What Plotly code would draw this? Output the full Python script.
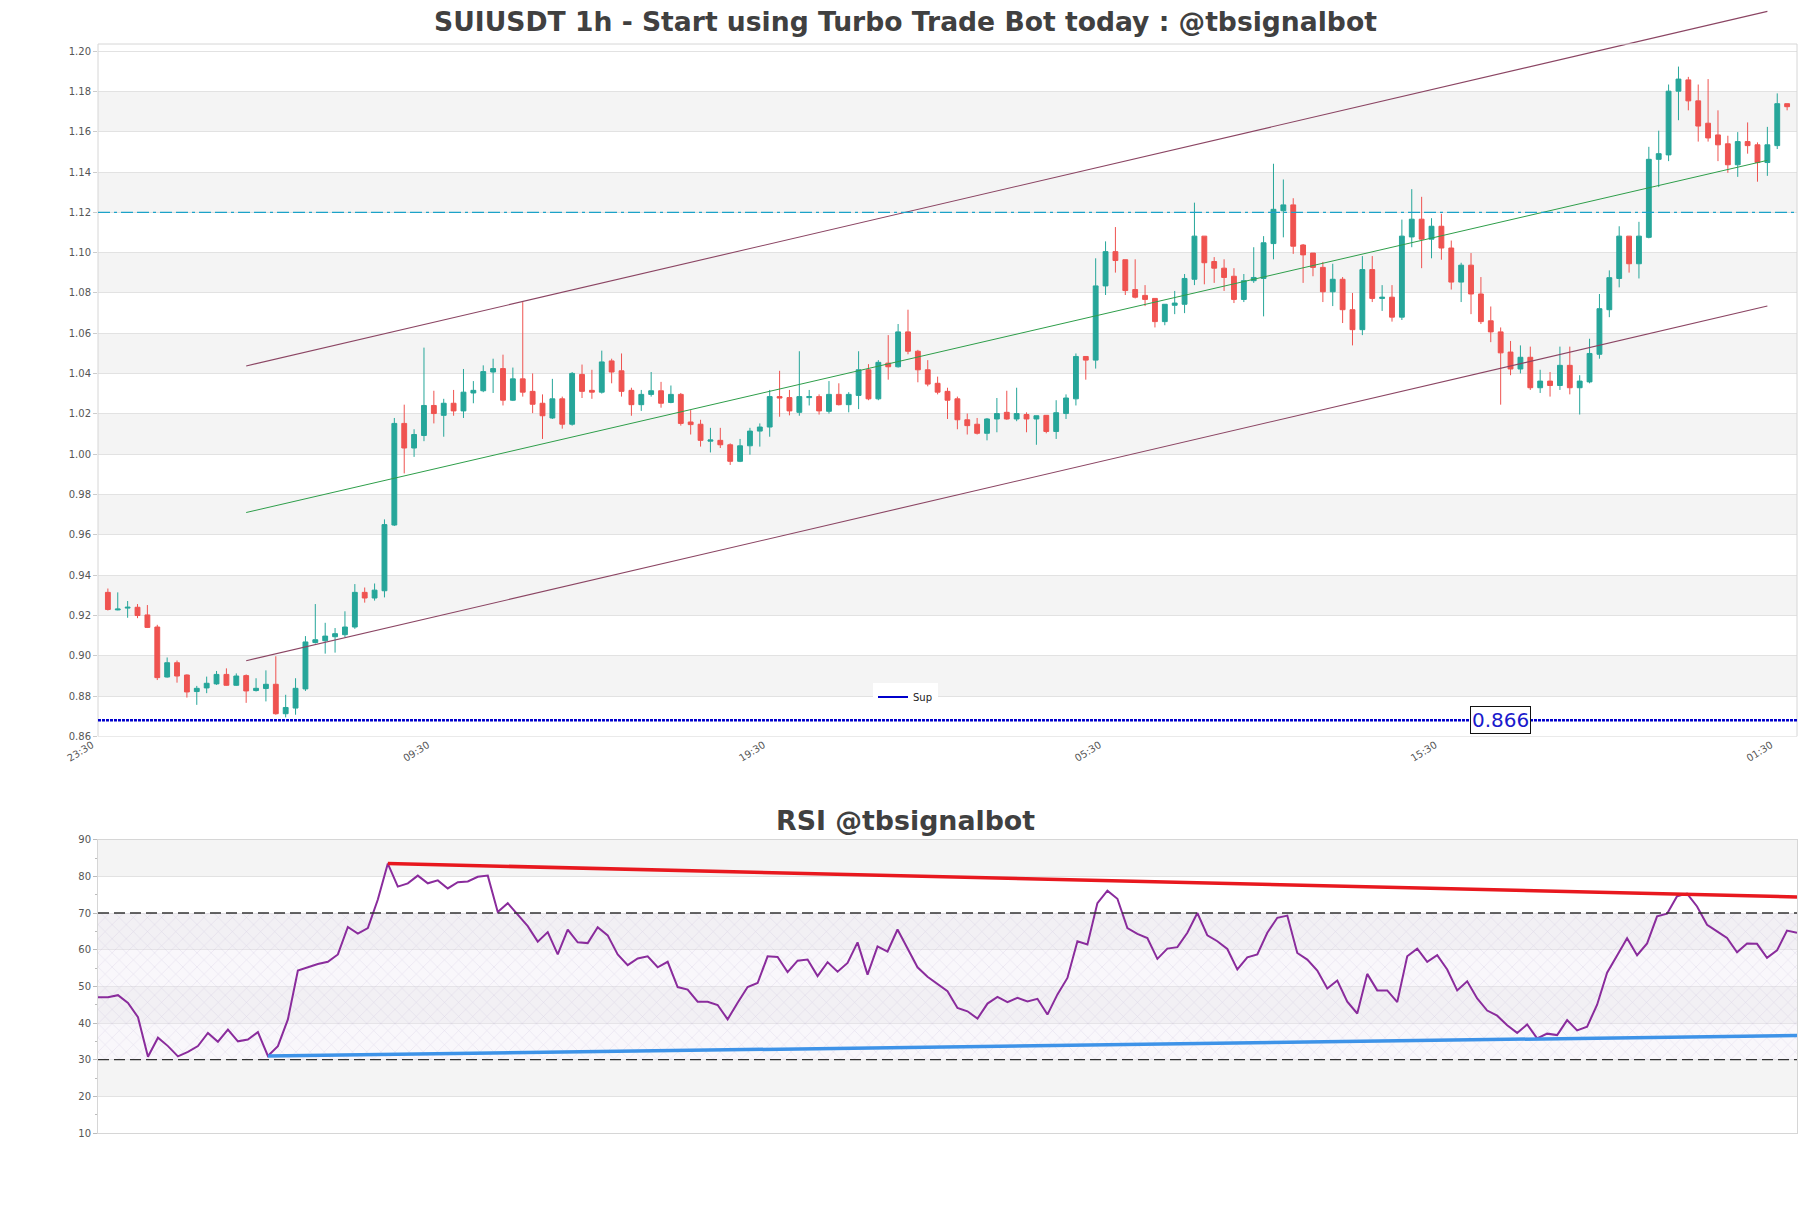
import plotly.graph_objects as go

# ---------------- data ----------------
title_text = "SUIUSDT 1h - Start using Turbo Trade Bot today : @tbsignalbot"
rsi_title = "RSI @tbsignalbot"
tick_idx = [0, 34, 68, 102, 136, 170]
tick_labels = ["23:30", "09:30", "19:30", "05:30", "15:30", "01:30"]

opens = [0.9315, 0.9228, 0.9237, 0.9241, 0.9203, 0.9143, 0.8895, 0.8966, 0.8905, 0.8823,
         0.8841, 0.8861, 0.8908, 0.8854, 0.8902, 0.8828, 0.8838, 0.8859, 0.8713, 0.8741,
         0.8836, 0.9066, 0.9075, 0.9095, 0.9105, 0.9143, 0.9315, 0.9287, 0.9323, 0.9649,
         1.0153, 1.0031, 1.0093, 1.0242, 1.0193, 1.0253, 1.0215, 1.0304, 1.0315, 1.0408,
         1.0425, 1.0268, 1.0374, 1.0312, 1.0253, 1.0180, 1.0275, 1.0149, 1.0396, 1.0317,
         1.0308, 1.0463, 1.0414, 1.0317, 1.0246, 1.0297, 1.0315, 1.0257, 1.0297, 1.0160,
         1.0149, 1.0065, 1.0069, 1.0047, 0.9965, 1.0042, 1.0115, 1.0135, 1.0286, 1.0281,
         1.0208, 1.0281, 1.0286, 1.0213, 1.0297, 1.0246, 1.0292, 1.0419, 1.0275, 1.0452,
         1.0434, 1.0607, 1.0511, 1.0419, 1.0352, 1.0312, 1.0275, 1.0171, 1.0149, 1.0104,
         1.0175, 1.0208, 1.0175, 1.0197, 1.0175, 1.0193, 1.0113, 1.0202, 1.0275, 1.0485,
         1.0467, 1.0835, 1.1005, 1.0965, 1.0817, 1.0788, 1.0773, 1.0658, 1.0739, 1.0744,
         1.0868, 1.1082, 1.0956, 1.0923, 1.0883, 1.0768, 1.0861, 1.0872, 1.1045, 1.1208,
         1.1237, 1.1038, 1.0998, 1.0927, 1.0806, 1.0868, 1.0717, 1.0618, 1.0916, 1.0773,
         1.0779, 1.0680, 1.1078, 1.1166, 1.1067, 1.1131, 1.1023, 1.0854, 1.0938, 1.0795,
         1.0662, 1.0607, 1.0507, 1.0423, 1.0481, 1.0330, 1.0363, 1.0341, 1.0441, 1.0330,
         1.0359, 1.0496, 1.0717, 1.0872, 1.1082, 1.0945, 1.1076, 1.1463, 1.1485, 1.1801,
         1.1857, 1.1753, 1.1642, 1.1584, 1.1540, 1.1436, 1.1551, 1.1535, 1.1447, 1.1531,
         1.1739]
highs = [0.9334, 0.9315, 0.9272, 0.9257, 0.9252, 0.9154, 0.8992, 0.8977, 0.8908, 0.8851,
         0.8897, 0.8925, 0.8938, 0.8913, 0.8908, 0.8889, 0.8928, 0.8998, 0.8807, 0.8889,
         0.9098, 0.9257, 0.9164, 0.9138, 0.9221, 0.9356, 0.9339, 0.9359, 0.9677, 1.0180,
         1.0246, 1.0124, 1.0529, 1.0315, 1.0275, 1.0319, 1.0423, 1.0363, 1.0441, 1.0474,
         1.0494, 1.0430, 1.0755, 1.0401, 1.0297, 1.0374, 1.0286, 1.0408, 1.0445, 1.0419,
         1.0514, 1.0474, 1.0500, 1.0330, 1.0319, 1.0408, 1.0359, 1.0341, 1.0304, 1.0219,
         1.0171, 1.0131, 1.0131, 1.0054, 1.0076, 1.0131, 1.0153, 1.0319, 1.0414, 1.0319,
         1.0511, 1.0319, 1.0297, 1.0363, 1.0352, 1.0308, 1.0511, 1.0447, 1.0467, 1.0591,
         1.0646, 1.0717, 1.0518, 1.0467, 1.0385, 1.0330, 1.0286, 1.0202, 1.0180, 1.0180,
         1.0279, 1.0315, 1.0330, 1.0208, 1.0191, 1.0193, 1.0268, 1.0297, 1.0500, 1.0485,
         1.0972, 1.1056, 1.1127, 1.0965, 1.0967, 1.0839, 1.0773, 1.0744, 1.0810, 1.0894,
         1.1248, 1.1082, 1.0978, 1.0967, 1.0923, 1.0894, 1.1027, 1.1082, 1.1441, 1.1363,
         1.1270, 1.1043, 1.0998, 1.0954, 1.0945, 1.0879, 1.0800, 1.0983, 1.0983, 1.0839,
         1.0839, 1.1164, 1.1315, 1.1277, 1.1171, 1.1193, 1.1060, 1.0950, 1.0998, 1.0879,
         1.0733, 1.0629, 1.0562, 1.0540, 1.0534, 1.0419, 1.0408, 1.0534, 1.0534, 1.0392,
         1.0573, 1.0795, 1.0912, 1.1131, 1.1082, 1.1153, 1.1525, 1.1605, 1.1834, 1.1923,
         1.1872, 1.1834, 1.1861, 1.1706, 1.1580, 1.1598, 1.1646, 1.1547, 1.1624, 1.1790,
         1.1739]
lows = [0.9225, 0.9226, 0.9189, 0.9187, 0.9138, 0.8880, 0.8892, 0.8867, 0.8793, 0.8757,
        0.8815, 0.8856, 0.8852, 0.8851, 0.8767, 0.8823, 0.8774, 0.8708, 0.8695, 0.8708,
        0.8826, 0.9061, 0.9011, 0.9016, 0.9093, 0.9134, 0.9264, 0.9274, 0.9290, 0.9644,
        0.9905, 0.9987, 1.0065, 1.0153, 1.0087, 1.0191, 1.0180, 1.0253, 1.0308, 1.0304,
        1.0242, 1.0264, 1.0286, 1.0204, 1.0076, 1.0175, 1.0127, 1.0142, 1.0279, 1.0275,
        1.0301, 1.0352, 1.0286, 1.0191, 1.0215, 1.0286, 1.0231, 1.0253, 1.0142, 1.0098,
        1.0038, 1.0009, 1.0031, 0.9947, 0.9961, 0.9998, 1.0038, 1.0087, 1.0186, 1.0193,
        1.0191, 1.0242, 1.0197, 1.0202, 1.0242, 1.0208, 1.0224, 1.0268, 1.0268, 1.0370,
        1.0430, 1.0496, 1.0357, 1.0337, 1.0297, 1.0175, 1.0124, 1.0098, 1.0098, 1.0069,
        1.0109, 1.0171, 1.0164, 1.0109, 1.0047, 1.0104, 1.0076, 1.0175, 1.0242, 1.0370,
        1.0425, 1.0790, 1.0901, 1.0790, 1.0773, 1.0735, 1.0629, 1.0640, 1.0695, 1.0700,
        1.0839, 1.0843, 1.0850, 1.0810, 1.0750, 1.0755, 1.0850, 1.0684, 1.0967, 1.1076,
        1.0994, 1.0850, 1.0883, 1.0755, 1.0735, 1.0651, 1.0540, 1.0591, 1.0755, 1.0711,
        1.0658, 1.0666, 1.1027, 1.0923, 1.0972, 1.0965, 1.0817, 1.0755, 1.0695, 1.0646,
        1.0556, 1.0246, 1.0392, 1.0401, 1.0319, 1.0304, 1.0286, 1.0319, 1.0297, 1.0197,
        1.0352, 1.0474, 1.0680, 1.0828, 1.0901, 1.0872, 1.1071, 1.1325, 1.1454, 1.1657,
        1.1706, 1.1551, 1.1551, 1.1454, 1.1396, 1.1376, 1.1491, 1.1352, 1.1381, 1.1514,
        1.1706]
closes = [0.9230, 0.9232, 0.9241, 0.9200, 0.9141, 0.8892, 0.8966, 0.8900, 0.8821, 0.8839,
          0.8864, 0.8908, 0.8854, 0.8900, 0.8826, 0.8839, 0.8859, 0.8713, 0.8744, 0.8839,
          0.9069, 0.9080, 0.9098, 0.9110, 0.9143, 0.9315, 0.9287, 0.9326, 0.9651, 1.0153,
          1.0031, 1.0098, 1.0242, 1.0202, 1.0253, 1.0215, 1.0308, 1.0317, 1.0410, 1.0425,
          1.0268, 1.0374, 1.0308, 1.0248, 1.0191, 1.0275, 1.0149, 1.0401, 1.0312, 1.0308,
          1.0458, 1.0408, 1.0312, 1.0246, 1.0297, 1.0315, 1.0253, 1.0297, 1.0153, 1.0147,
          1.0069, 1.0071, 1.0047, 0.9965, 1.0042, 1.0115, 1.0135, 1.0286, 1.0279, 1.0215,
          1.0286, 1.0286, 1.0215, 1.0297, 1.0246, 1.0297, 1.0419, 1.0275, 1.0456, 1.0434,
          1.0607, 1.0511, 1.0419, 1.0348, 1.0308, 1.0268, 1.0171, 1.0142, 1.0104, 1.0175,
          1.0202, 1.0175, 1.0202, 1.0175, 1.0191, 1.0113, 1.0206, 1.0279, 1.0485, 1.0467,
          1.0835, 1.1005, 1.0961, 1.0812, 1.0779, 1.0768, 1.0658, 1.0744, 1.0750, 1.0872,
          1.1082, 1.0950, 1.0923, 1.0877, 1.0768, 1.0861, 1.0877, 1.1049, 1.1215, 1.1237,
          1.1032, 1.0989, 1.0927, 1.0806, 1.0868, 1.0717, 1.0618, 1.0916, 1.0773, 1.0779,
          1.0680, 1.1082, 1.1166, 1.1067, 1.1131, 1.1023, 1.0854, 1.0938, 1.0795, 1.0658,
          1.0607, 1.0503, 1.0423, 1.0481, 1.0330, 1.0363, 1.0341, 1.0441, 1.0330, 1.0363,
          1.0500, 1.0722, 1.0876, 1.1082, 1.0945, 1.1082, 1.1463, 1.1491, 1.1801, 1.1861,
          1.1753, 1.1628, 1.1569, 1.1535, 1.1436, 1.1551, 1.1531, 1.1447, 1.1535, 1.1739,
          1.1724]

rsi = [47.0, 47.0, 47.6, 45.5, 41.6, 30.8, 36.0, 33.7, 30.9, 32.1,
       33.7, 37.3, 34.9, 38.2, 35.0, 35.5, 37.5, 31.0, 33.7, 41.0,
       54.3, 55.2, 56.1, 56.7, 58.7, 66.2, 64.4, 65.9, 73.7, 83.5,
       77.2, 78.1, 80.2, 78.1, 78.9, 76.7, 78.4, 78.6, 79.9, 80.2,
       70.3, 72.7, 69.6, 66.4, 62.2, 64.8, 58.7, 65.5, 62.0, 61.8,
       66.1, 63.9, 58.7, 55.8, 57.6, 58.2, 55.2, 56.7, 49.8, 49.1,
       45.8, 45.8, 44.9, 41.0, 45.5, 49.8, 50.9, 58.2, 58.0, 53.9,
       57.0, 57.3, 52.8, 56.6, 54.0, 56.4, 62.0, 53.2, 60.9, 59.5,
       65.5, 60.5, 55.2, 52.6, 50.7, 48.7, 44.1, 43.2, 41.2, 45.3,
       47.1, 45.7, 46.9, 45.9, 46.6, 42.3, 47.8, 52.3, 62.3, 61.4,
       72.7, 76.1, 73.9, 65.9, 64.3, 63.2, 57.5, 60.3, 60.7, 64.6,
       70.0, 63.9, 62.3, 60.2, 54.6, 57.9, 58.7, 64.6, 68.7, 69.3,
       59.1, 57.3, 54.3, 49.4, 51.6, 45.8, 42.6, 53.4, 48.9, 48.9,
       45.7, 58.2, 60.3, 56.7, 58.5, 54.6, 48.9, 51.4, 46.7, 43.4,
       42.0, 39.4, 37.3, 39.6, 35.8, 37.1, 36.7, 40.8, 38.0, 39.0,
       45.0, 53.7, 58.4, 63.1, 58.5, 61.7, 69.1, 69.8, 74.6, 75.3,
       71.8, 66.8, 65.0, 63.2, 59.3, 61.7, 61.6, 57.8, 59.8, 65.2,
       64.6]

channel_x = [14, 168]
channel_upper = [1.0438, 1.2197]
channel_mid = [0.9711, 1.1458]
channel_lower = [0.8976, 1.0735]
resistance_level = 1.12
support_level = 0.868
support_label = "0.866"
support_label_x = 141

rsi_res_x = [29, 170]
rsi_res_y = [83.5, 74.4]
rsi_sup_x = [17, 170]
rsi_sup_y = [31.0, 36.6]
rsi_levels = [30, 70]

price_ticks = [round(0.86 + 0.02 * i, 2) for i in range(18)]
price_bands = [(round(0.88 + 0.04 * i, 2), round(0.90 + 0.04 * i, 2)) for i in range(8)]
rsi_ticks = [10, 20, 30, 40, 50, 60, 70, 80, 90]
rsi_bands = [(20, 30), (40, 50), (60, 70), (80, 90)]

# ---------------- layout geometry ----------------
W, H = 1811, 1208
X_LEFT, X_RIGHT = 98, 1797
MAIN_BOTTOM_PX = 736.5
PX_PER_UNIT = 2016.0
MAIN_TOP_PRICE = 1.2035
RSI_TOP_PX, RSI_BOTTOM_PX = 839.7, 1133.0

n = len(closes)
xs = list(range(n))

GRID = "#e2e2e2"
BAND = "#f4f4f4"
BORDER = "#d6d6d6"
TICKFONT = dict(family="DejaVu Sans", size=10, color="#555555")

fig = go.Figure()

fig.add_trace(go.Candlestick(
    x=xs, open=opens, high=highs, low=lows, close=closes,
    increasing=dict(line=dict(color="#26a69a", width=1), fillcolor="#26a69a"),
    decreasing=dict(line=dict(color="#ef5350", width=1), fillcolor="#ef5350"),
    whiskerwidth=0, showlegend=False, hoverinfo="skip", xaxis="x", yaxis="y"))

for ys, col, w in [(channel_upper, "#8b4563", 1.1), (channel_lower, "#8b4563", 1.1),
                   (channel_mid, "#2e9e4a", 1.0)]:
    fig.add_trace(go.Scatter(x=channel_x, y=ys, mode="lines",
                             line=dict(color=col, width=w),
                             showlegend=False, hoverinfo="skip", xaxis="x", yaxis="y"))

# legend-only entry for support
fig.add_trace(go.Scatter(x=[None], y=[None], mode="lines", name="Sup",
                         line=dict(color="#0000cc", width=2), xaxis="x", yaxis="y"))

# RSI hatch zone
fig.add_trace(go.Scatter(
    x=[xs[0], xs[-1], xs[-1], xs[0], xs[0]],
    y=[rsi_levels[0], rsi_levels[0], rsi_levels[1], rsi_levels[1], rsi_levels[0]],
    mode="lines", fill="toself", fillcolor="rgba(0,0,0,0)", line=dict(width=0),
    fillpattern=dict(shape="x", fgcolor="rgba(170,155,200,0.6)",
                     bgcolor="rgba(236,230,244,0.35)", size=10, solidity=0.1),
    showlegend=False, hoverinfo="skip", xaxis="x2", yaxis="y2"))

fig.add_trace(go.Scatter(x=xs, y=rsi, mode="lines", line=dict(color="#8a2c9c", width=2),
                         showlegend=False, hoverinfo="skip", xaxis="x2", yaxis="y2"))
fig.add_trace(go.Scatter(x=rsi_res_x, y=rsi_res_y, mode="lines",
                         line=dict(color="#e8181e", width=3.5),
                         showlegend=False, hoverinfo="skip", xaxis="x2", yaxis="y2"))
fig.add_trace(go.Scatter(x=rsi_sup_x, y=rsi_sup_y, mode="lines",
                         line=dict(color="#3e93e8", width=3.5),
                         showlegend=False, hoverinfo="skip", xaxis="x2", yaxis="y2"))

shapes = []
for lo, hi in price_bands:
    shapes.append(dict(type="rect", xref="x domain", yref="y", x0=0, x1=1, y0=lo, y1=hi,
                       fillcolor=BAND, line=dict(width=0), layer="below"))
shapes.append(dict(type="rect", xref="x domain", yref="y", x0=0, x1=1,
                   y0=price_ticks[0], y1=MAIN_TOP_PRICE,
                   fillcolor="rgba(0,0,0,0)", line=dict(color=BORDER, width=1), layer="above"))
shapes.append(dict(type="line", xref="x domain", yref="y", x0=0, x1=1,
                   y0=resistance_level, y1=resistance_level,
                   line=dict(color="#1ba2c8", width=1.2, dash="12px,4px,3px,4px,12px,4px"), layer="above"))
shapes.append(dict(type="line", xref="x domain", yref="y", x0=0, x1=1,
                   y0=support_level, y1=support_level,
                   line=dict(color="#0000cc", width=2.5, dash="3px,1px"), layer="above"))
for lo, hi in rsi_bands:
    shapes.append(dict(type="rect", xref="x2 domain", yref="y2", x0=0, x1=1, y0=lo, y1=hi,
                       fillcolor=BAND, line=dict(width=0), layer="below"))
for lv in rsi_levels:
    shapes.append(dict(type="line", xref="x2 domain", yref="y2", x0=0, x1=1, y0=lv, y1=lv,
                       line=dict(color="#333333", width=1.3, dash="11px,5px"), layer="above"))

main_y0 = (H - MAIN_BOTTOM_PX) / H
main_top_range = price_ticks[0] + MAIN_BOTTOM_PX / PX_PER_UNIT
xdom = [X_LEFT / W, X_RIGHT / W]

fig.update_layout(
    width=W, height=H, margin=dict(l=0, r=0, t=0, b=0),
    paper_bgcolor="white", plot_bgcolor="rgba(0,0,0,0)",
    font=dict(family="DejaVu Sans", color="#444444"),
    title=dict(text=title_text, x=0.5, xanchor="center", y=1 - 22 / H, yanchor="middle",
               font=dict(family="DejaVu Sans", size=26.6, color="#404040", weight="bold")),
    shapes=shapes,
    showlegend=True,
    legend=dict(x=0.5, xanchor="center", y=1 - 697 / H, yanchor="middle",
                bgcolor="white", borderwidth=0, font=dict(family="DejaVu Sans", size=10, color="#222"),
                itemwidth=30),
    xaxis=dict(domain=xdom, range=[-1, n], anchor="y", showgrid=False, zeroline=False,
               showline=False, tickmode="array", tickvals=tick_idx, ticktext=tick_labels,
               tickangle=-32, tickfont=TICKFONT, ticks="", automargin=False,
               ticklabelshift=-16,
               rangeslider=dict(visible=False), fixedrange=True),
    yaxis=dict(domain=[main_y0, 1], range=[price_ticks[0], main_top_range], anchor="x",
               tickmode="array", tickvals=price_ticks,
               ticktext=[f"{v:.2f}" for v in price_ticks],
               showgrid=True, gridcolor=GRID, gridwidth=1, zeroline=False, showline=False,
               ticks="outside", ticklen=4, tickcolor="#cccccc", tickfont=TICKFONT,
               automargin=False),
    xaxis2=dict(domain=xdom, range=[xs[0], xs[-1]], anchor="y2", showgrid=False,
                zeroline=False, showline=True, mirror=True, linecolor=BORDER, linewidth=1,
                showticklabels=False, ticks="", automargin=False),
    yaxis2=dict(domain=[(H - RSI_BOTTOM_PX) / H, (H - RSI_TOP_PX) / H], range=[10, 90],
                anchor="x2", tickmode="array", tickvals=rsi_ticks,
                showgrid=True, gridcolor=GRID, gridwidth=1, zeroline=False,
                showline=True, mirror=True, linecolor=BORDER, linewidth=1,
                ticks="outside", ticklen=4, tickcolor="#bbbbbb", tickfont=TICKFONT,
                minor=dict(ticks="outside", ticklen=2, tickcolor="#bbbbbb", dtick=5, showgrid=False),
                automargin=False),
    annotations=[
        dict(text=rsi_title, x=0.5, y=1 - 820 / H, xref="paper", yref="paper",
             xanchor="center", yanchor="middle", showarrow=False,
             font=dict(family="DejaVu Sans", size=26.8, color="#404040", weight="bold")),
        dict(text=support_label, x=support_label_x, y=support_level, xref="x", yref="y",
             xanchor="center", yanchor="middle", showarrow=False,
             font=dict(family="DejaVu Sans", size=20, color="#1a1acc"),
             bgcolor="white", bordercolor="#111111", borderwidth=1, borderpad=1),
    ],
)

fig.write_html("out.html")
